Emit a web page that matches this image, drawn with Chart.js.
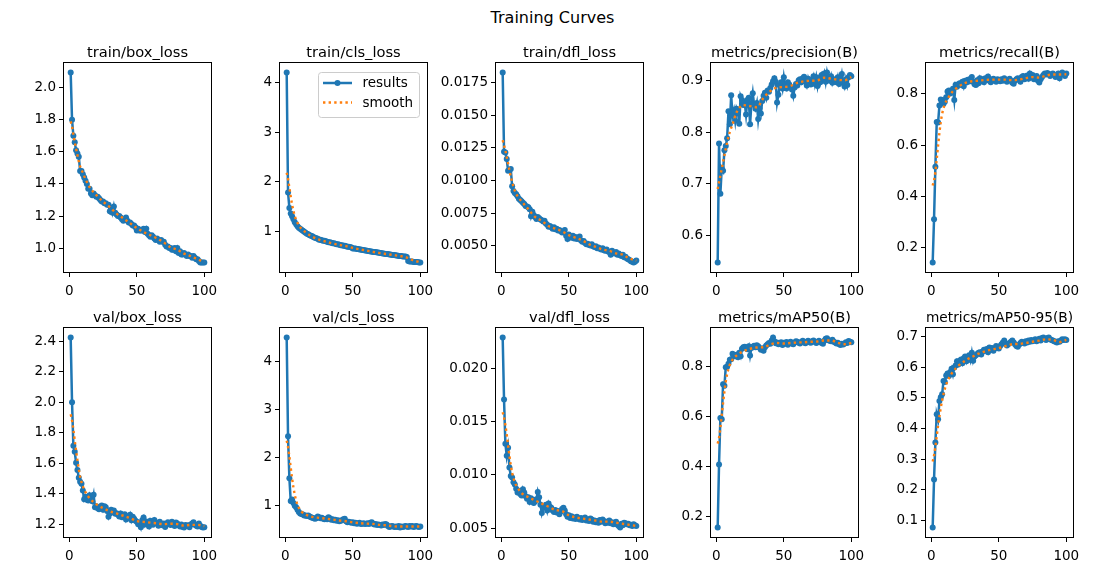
<!DOCTYPE html>
<html>
<head>
<meta charset="utf-8">
<script src="https://cdn.jsdelivr.net/npm/chart.js@4.4.1/dist/chart.umd.min.js"></script>
<style>
  body { margin: 0; background: #fff; width: 1105px; height: 584px; position: relative; overflow: hidden; font-family: "DejaVu Sans", sans-serif; }
  #suptitle { position: absolute; left: 0; top: 8px; width: 1105px; text-align: center; font-size: 16px; color: #000; }
  canvas { position: absolute; }
</style>
</head>
<body>
<div id="suptitle">Training Curves</div>
<script>
// Epochs and tick labels
const EPOCHS = Array.from({ length: 100 }, (_, i) => i + 1);
const SMOOTH_EPOCHS = [1, 2, 3, 4, 5, 6, 7, 8, 10, 12, 15, 20, 25, 30, 35, 40, 45, 50, 55, 60, 65, 70, 75, 80, 85, 90, 95, 100];
const X_TICKS = [0, 50, 100];

// train/box_loss
const trainBoxLoss = [2.095, 1.80, 1.70, 1.66, 1.61, 1.59, 1.57, 1.48, 1.48, 1.46,
  1.44, 1.42, 1.40, 1.37, 1.37, 1.34, 1.33, 1.34, 1.33, 1.32,
  1.32, 1.31, 1.30, 1.29, 1.29, 1.28, 1.28, 1.27, 1.27, 1.23,
  1.25, 1.22, 1.26, 1.22, 1.21, 1.20, 1.20, 1.19, 1.18, 1.17,
  1.18, 1.19, 1.17, 1.16, 1.16, 1.15, 1.14, 1.14, 1.13, 1.11,
  1.12, 1.11, 1.11, 1.11, 1.12, 1.10, 1.12, 1.09, 1.08, 1.07,
  1.08, 1.07, 1.06, 1.05, 1.06, 1.05, 1.04, 1.05, 1.04, 1.04,
  1.02, 1.01, 1.01, 1.00, 1.00, 0.99, 0.99, 1.00, 0.98, 1.00,
  0.97, 0.98, 0.96, 0.96, 0.97, 0.96, 0.95, 0.96, 0.95, 0.95,
  0.94, 0.95, 0.94, 0.93, 0.93, 0.92, 0.91, 0.91, 0.91, 0.91];
const trainBoxSmooth = [1.79, 1.76, 1.71, 1.66, 1.62, 1.58, 1.54, 1.51, 1.47, 1.43, 1.38, 1.33, 1.29, 1.255,
  1.215, 1.185, 1.155, 1.125, 1.10, 1.08, 1.06, 1.035, 1.005, 0.99, 0.965, 0.95, 0.93, 0.915];
const trainBoxTicks = ['1.0', '1.2', '1.4', '1.6', '1.8', '2.0'];

// train/cls_loss
const trainClsLoss = [4.20, 1.78, 1.47, 1.36, 1.30, 1.24, 1.18, 1.14, 1.10, 1.07,
  1.05, 1.03, 1.01, 0.99, 0.97, 0.95, 0.94, 0.92, 0.91, 0.90,
  0.88, 0.87, 0.86, 0.85, 0.83, 0.83, 0.82, 0.81, 0.81, 0.80,
  0.79, 0.78, 0.78, 0.77, 0.76, 0.76, 0.75, 0.74, 0.74, 0.73,
  0.72, 0.72, 0.71, 0.71, 0.70, 0.69, 0.69, 0.68, 0.67, 0.65,
  0.65, 0.65, 0.64, 0.64, 0.63, 0.63, 0.62, 0.62, 0.61, 0.61,
  0.60, 0.60, 0.59, 0.59, 0.58, 0.58, 0.58, 0.57, 0.57, 0.56,
  0.56, 0.55, 0.55, 0.54, 0.54, 0.54, 0.53, 0.53, 0.52, 0.52,
  0.52, 0.51, 0.51, 0.50, 0.50, 0.50, 0.49, 0.49, 0.49, 0.48,
  0.40, 0.39, 0.39, 0.39, 0.38, 0.38, 0.38, 0.38, 0.37, 0.37];
const trainClsSmooth = [2.18, 2.05, 1.88, 1.70, 1.54, 1.41, 1.31, 1.23, 1.12, 1.05, 0.98, 0.89, 0.83, 0.79,
  0.755, 0.725, 0.70, 0.665, 0.635, 0.61, 0.585, 0.56, 0.54, 0.52, 0.50, 0.47, 0.41, 0.38];
const trainClsTicks = ['1', '2', '3', '4'];

// train/dfl_loss
const trainDflLoss = [0.01830, 0.01222, 0.01215, 0.01165, 0.01075, 0.01080, 0.01088, 0.00955, 0.00920, 0.00905,
  0.00895, 0.00880, 0.00860, 0.00850, 0.00840, 0.00830, 0.00820, 0.00805, 0.00800, 0.00795,
  0.00780, 0.00725, 0.00760, 0.00735, 0.00720, 0.00705, 0.00720, 0.00710, 0.00700, 0.00695,
  0.00685, 0.00690, 0.00670, 0.00660, 0.00645, 0.00650, 0.00640, 0.00630, 0.00640, 0.00625,
  0.00630, 0.00615, 0.00620, 0.00610, 0.00600, 0.00605, 0.00620, 0.00575, 0.00550, 0.00585,
  0.00570, 0.00560, 0.00575, 0.00555, 0.00565, 0.00550, 0.00555, 0.00570, 0.00540, 0.00530,
  0.00535, 0.00520, 0.00510, 0.00515, 0.00505, 0.00500, 0.00510, 0.00495, 0.00490, 0.00495,
  0.00480, 0.00485, 0.00475, 0.00470, 0.00480, 0.00465, 0.00460, 0.00470, 0.00455, 0.00450,
  0.00430, 0.00460, 0.00445, 0.00440, 0.00450, 0.00430, 0.00440, 0.00425, 0.00420, 0.00430,
  0.00410, 0.00415, 0.00400, 0.00395, 0.00390, 0.00380, 0.00375, 0.00370, 0.00375, 0.00385];
const trainDflSmooth = [0.0131, 0.0127, 0.0123, 0.0118, 0.0113, 0.0108, 0.0103, 0.0099, 0.0092, 0.0088, 0.0084,
  0.0078, 0.0072, 0.0069, 0.0065, 0.0063, 0.0061, 0.0058, 0.0056, 0.0054, 0.0051, 0.0049, 0.0047, 0.0046,
  0.0044, 0.0043, 0.0040, 0.00385];
const trainDflTicks = ['0.0050', '0.0075', '0.0100', '0.0125', '0.0150', '0.0175'];

// metrics/precision(B)
const precision = [0.548, 0.778, 0.681, 0.730, 0.725, 0.765, 0.773, 0.788, 0.840, 0.815,
  0.871, 0.832, 0.842, 0.822, 0.845, 0.838, 0.816, 0.869, 0.862, 0.852,
  0.857, 0.834, 0.862, 0.866, 0.815, 0.856, 0.875, 0.852, 0.845, 0.856,
  0.825, 0.846, 0.836, 0.860, 0.870, 0.876, 0.866, 0.880, 0.878, 0.885,
  0.892, 0.898, 0.904, 0.897, 0.857, 0.872, 0.890, 0.896, 0.884, 0.906,
  0.889, 0.884, 0.896, 0.892, 0.887, 0.882, 0.870, 0.886, 0.893, 0.890,
  0.900, 0.902, 0.896, 0.904, 0.907, 0.898, 0.890, 0.903, 0.894, 0.892,
  0.901, 0.908, 0.893, 0.906, 0.889, 0.903, 0.896, 0.910, 0.904, 0.913,
  0.897, 0.915, 0.903, 0.899, 0.908, 0.895, 0.902, 0.901, 0.896, 0.906,
  0.893, 0.899, 0.912, 0.896, 0.888, 0.902, 0.891, 0.906, 0.910, 0.908];
const precisionSmooth = [0.690, 0.703, 0.716, 0.729, 0.742, 0.755, 0.768, 0.780, 0.800, 0.815, 0.838, 0.852,
  0.850, 0.848, 0.866, 0.879, 0.886, 0.887, 0.889, 0.895, 0.898, 0.899, 0.900, 0.905, 0.903, 0.901, 0.900, 0.906];
const precisionTicks = ['0.6', '0.7', '0.8', '0.9'];

// metrics/recall(B)
const recall = [0.141, 0.310, 0.515, 0.690, 0.688, 0.755, 0.778, 0.776, 0.762, 0.770,
  0.787, 0.810, 0.814, 0.802, 0.812, 0.820, 0.776, 0.836, 0.828, 0.838,
  0.842, 0.835, 0.848, 0.830, 0.852, 0.845, 0.856, 0.849, 0.860, 0.866,
  0.848, 0.838, 0.835, 0.854, 0.842, 0.862, 0.850, 0.858, 0.846, 0.862,
  0.857, 0.868, 0.852, 0.846, 0.857, 0.860, 0.852, 0.848, 0.858, 0.855,
  0.850, 0.858, 0.852, 0.862, 0.856, 0.848, 0.855, 0.860, 0.852, 0.844,
  0.840, 0.852, 0.858, 0.862, 0.856, 0.848, 0.866, 0.870, 0.858, 0.862,
  0.872, 0.860, 0.880, 0.866, 0.874, 0.858, 0.864, 0.870, 0.852, 0.845,
  0.858, 0.866, 0.874, 0.880, 0.876, 0.882, 0.878, 0.870, 0.876, 0.880,
  0.874, 0.866, 0.872, 0.880, 0.862, 0.878, 0.884, 0.876, 0.870, 0.880];
const recallSmooth = [0.442, 0.462, 0.495, 0.545, 0.598, 0.648, 0.690, 0.722, 0.760, 0.780, 0.805, 0.828, 0.843,
  0.850, 0.852, 0.855, 0.856, 0.856, 0.856, 0.854, 0.856, 0.862, 0.866, 0.864, 0.872, 0.876, 0.876, 0.877];
const recallTicks = ['0.2', '0.4', '0.6', '0.8'];

// val/box_loss
const valBoxLoss = [2.424, 2.000, 1.714, 1.675, 1.603, 1.555, 1.505, 1.478, 1.465, 1.420,
  1.364, 1.380, 1.360, 1.355, 1.390, 1.370, 1.350, 1.392, 1.310, 1.318,
  1.305, 1.298, 1.316, 1.322, 1.295, 1.318, 1.310, 1.286, 1.248, 1.270,
  1.295, 1.278, 1.290, 1.268, 1.272, 1.262, 1.250, 1.270, 1.245, 1.260,
  1.265, 1.230, 1.252, 1.240, 1.262, 1.225, 1.248, 1.235, 1.222, 1.215,
  1.200, 1.208, 1.180, 1.225, 1.244, 1.198, 1.218, 1.205, 1.185, 1.222,
  1.205, 1.196, 1.228, 1.210, 1.205, 1.190, 1.215, 1.198, 1.192, 1.205,
  1.182, 1.200, 1.212, 1.206, 1.195, 1.215, 1.202, 1.188, 1.210, 1.205,
  1.192, 1.185, 1.198, 1.182, 1.178, 1.195, 1.188, 1.192, 1.180, 1.198,
  1.205, 1.212, 1.196, 1.190, 1.185, 1.205, 1.190, 1.182, 1.178, 1.180];
const valBoxSmooth = [1.92, 1.88, 1.82, 1.75, 1.68, 1.62, 1.56, 1.51, 1.45, 1.41, 1.37, 1.33, 1.305, 1.285,
  1.27, 1.255, 1.24, 1.22, 1.215, 1.21, 1.205, 1.20, 1.203, 1.20, 1.19, 1.195, 1.195, 1.187];
const valBoxTicks = ['1.2', '1.4', '1.6', '1.8', '2.0', '2.2', '2.4'];

// val/cls_loss
const valClsLoss = [4.49, 2.44, 1.57, 1.10, 1.13, 1.06, 1.00, 0.97, 0.92, 0.87,
  0.84, 0.83, 0.82, 0.80, 0.80, 0.79, 0.80, 0.78, 0.76, 0.75,
  0.74, 0.73, 0.74, 0.78, 0.76, 0.74, 0.75, 0.73, 0.72, 0.73,
  0.72, 0.76, 0.74, 0.71, 0.72, 0.70, 0.71, 0.69, 0.70, 0.68,
  0.69, 0.70, 0.72, 0.73, 0.68, 0.66, 0.67, 0.66, 0.65, 0.66,
  0.64, 0.65, 0.63, 0.64, 0.65, 0.62, 0.63, 0.64, 0.62, 0.63,
  0.64, 0.62, 0.65, 0.66, 0.63, 0.61, 0.62, 0.60, 0.61, 0.60,
  0.59, 0.61, 0.60, 0.62, 0.61, 0.58, 0.56, 0.57, 0.58, 0.57,
  0.56, 0.57, 0.56, 0.58, 0.55, 0.57, 0.56, 0.57, 0.58, 0.57,
  0.56, 0.58, 0.57, 0.58, 0.56, 0.57, 0.58, 0.57, 0.56, 0.57];
const valClsSmooth = [2.35, 2.22, 2.02, 1.79, 1.57, 1.38, 1.23, 1.11, 0.96, 0.88, 0.82, 0.77, 0.75, 0.735,
  0.715, 0.695, 0.68, 0.655, 0.64, 0.63, 0.625, 0.605, 0.595, 0.575, 0.57, 0.57, 0.57, 0.57];
const valClsTicks = ['1', '2', '3', '4'];

// val/dfl_loss
const valDflLoss = [0.02293, 0.01710, 0.01294, 0.01180, 0.01256, 0.01070, 0.00990, 0.00975, 0.00930, 0.00910,
  0.00870, 0.00835, 0.00850, 0.00820, 0.00805, 0.00865, 0.00835, 0.00800, 0.00775, 0.00790,
  0.00745, 0.00780, 0.00765, 0.00735, 0.00750, 0.00770, 0.00840, 0.00790, 0.00720, 0.00642,
  0.00690, 0.00710, 0.00720, 0.00665, 0.00730, 0.00700, 0.00690, 0.00665, 0.00650, 0.00670,
  0.00645, 0.00660, 0.00630, 0.00655, 0.00680, 0.00690, 0.00665, 0.00630, 0.00605, 0.00620,
  0.00595, 0.00610, 0.00590, 0.00600, 0.00585, 0.00605, 0.00590, 0.00580, 0.00595, 0.00575,
  0.00585, 0.00600, 0.00570, 0.00580, 0.00565, 0.00590, 0.00580, 0.00560, 0.00570, 0.00555,
  0.00565, 0.00550, 0.00575, 0.00560, 0.00580, 0.00565, 0.00545, 0.00560, 0.00550, 0.00570,
  0.00545, 0.00555, 0.00535, 0.00550, 0.00560, 0.00530, 0.00520, 0.00505, 0.00540, 0.00525,
  0.00550, 0.00545, 0.00535, 0.00540, 0.00525, 0.00530, 0.00520, 0.00535, 0.00525, 0.00520];
const valDflSmooth = [0.0159, 0.0154, 0.0147, 0.0138, 0.0128, 0.0118, 0.0109, 0.0102, 0.0093, 0.0088, 0.0083,
  0.0079, 0.0076, 0.0073, 0.0070, 0.0067, 0.0066, 0.0062, 0.0060, 0.0059, 0.0058, 0.0057, 0.0056, 0.0056,
  0.0055, 0.0054, 0.0053, 0.0052];
const valDflTicks = ['0.005', '0.010', '0.015', '0.020'];

// metrics/mAP50(B)
const map50 = [0.156, 0.408, 0.595, 0.590, 0.730, 0.724, 0.798, 0.800, 0.812, 0.828,
  0.830, 0.852, 0.846, 0.842, 0.848, 0.838, 0.856, 0.842, 0.872, 0.878,
  0.880, 0.877, 0.870, 0.882, 0.845, 0.875, 0.880, 0.884, 0.878, 0.886,
  0.882, 0.876, 0.868, 0.872, 0.864, 0.878, 0.885, 0.890, 0.895, 0.892,
  0.905, 0.917, 0.902, 0.894, 0.897, 0.890, 0.893, 0.898, 0.887, 0.896,
  0.892, 0.899, 0.888, 0.895, 0.900, 0.893, 0.890, 0.897, 0.902, 0.900,
  0.896, 0.893, 0.899, 0.904, 0.897, 0.894, 0.900, 0.904, 0.898, 0.896,
  0.902, 0.905, 0.899, 0.895, 0.898, 0.904, 0.900, 0.895, 0.892, 0.904,
  0.912, 0.914, 0.906, 0.904, 0.902, 0.908, 0.900, 0.897, 0.893, 0.896,
  0.890, 0.887, 0.892, 0.889, 0.893, 0.898, 0.895, 0.903, 0.900, 0.898];
const map50Smooth = [0.492, 0.515, 0.555, 0.605, 0.655, 0.700, 0.740, 0.770, 0.808, 0.828, 0.845, 0.862, 0.872,
  0.877, 0.878, 0.889, 0.895, 0.893, 0.895, 0.897, 0.898, 0.900, 0.901, 0.905, 0.905, 0.896, 0.890, 0.895];
const map50Ticks = ['0.2', '0.4', '0.6', '0.8'];

// metrics/mAP50-95(B)
const map5095 = [0.076, 0.233, 0.354, 0.447, 0.430, 0.490, 0.502, 0.512, 0.556, 0.552,
  0.574, 0.580, 0.572, 0.585, 0.596, 0.578, 0.600, 0.606, 0.620, 0.610,
  0.622, 0.626, 0.614, 0.630, 0.636, 0.620, 0.632, 0.640, 0.624, 0.648,
  0.622, 0.636, 0.640, 0.644, 0.648, 0.650, 0.642, 0.652, 0.658, 0.655,
  0.660, 0.650, 0.665, 0.660, 0.664, 0.655, 0.662, 0.670, 0.665, 0.662,
  0.670, 0.676, 0.682, 0.688, 0.678, 0.672, 0.676, 0.680, 0.684, 0.688,
  0.682, 0.676, 0.670, 0.668, 0.674, 0.680, 0.684, 0.682, 0.678, 0.686,
  0.682, 0.688, 0.684, 0.690, 0.686, 0.688, 0.692, 0.686, 0.690, 0.694,
  0.688, 0.696, 0.698, 0.694, 0.690, 0.696, 0.698, 0.692, 0.690, 0.688,
  0.686, 0.684, 0.682, 0.686, 0.684, 0.688, 0.692, 0.690, 0.692, 0.690];
const map5095Smooth = [0.292, 0.312, 0.340, 0.375, 0.410, 0.440, 0.468, 0.492, 0.530, 0.555, 0.580, 0.605,
  0.622, 0.634, 0.645, 0.653, 0.659, 0.663, 0.670, 0.676, 0.677, 0.680, 0.684, 0.688, 0.692, 0.690, 0.683, 0.690];
const map5095Ticks = ['0.1', '0.2', '0.3', '0.4', '0.5', '0.6', '0.7'];

// Layout (axes boxes in page pixels, matplotlib-like grid 2 x 5)
const AX_LEFT = [64, 280, 496, 711, 926];
const AX_TOP = [63, 328];
const AX_W = 147, AX_H = 209;
const PAD_L = 70, PAD_R = 16, PAD_T = 30, PAD_B = 30;
const X_MIN = -3.95, X_MAX = 104.95;
const BLUE = '#1f77b4', ORANGE = '#ff7f0e';
const FONT = 'DejaVu Sans';

Chart.defaults.font.family = FONT;
Chart.defaults.color = '#000';

const panels = [
  { title: 'train/box_loss', values: trainBoxLoss, smooth: trainBoxSmooth, ticks: trainBoxTicks, row: 0, col: 0 },
  { title: 'train/cls_loss', values: trainClsLoss, smooth: trainClsSmooth, ticks: trainClsTicks, row: 0, col: 1, legend: true },
  { title: 'train/dfl_loss', values: trainDflLoss, smooth: trainDflSmooth, ticks: trainDflTicks, row: 0, col: 2 },
  { title: 'metrics/precision(B)', values: precision, smooth: precisionSmooth, ticks: precisionTicks, row: 0, col: 3 },
  { title: 'metrics/recall(B)', values: recall, smooth: recallSmooth, ticks: recallTicks, row: 0, col: 4 },
  { title: 'val/box_loss', values: valBoxLoss, smooth: valBoxSmooth, ticks: valBoxTicks, row: 1, col: 0 },
  { title: 'val/cls_loss', values: valClsLoss, smooth: valClsSmooth, ticks: valClsTicks, row: 1, col: 1 },
  { title: 'val/dfl_loss', values: valDflLoss, smooth: valDflSmooth, ticks: valDflTicks, row: 1, col: 2 },
  { title: 'metrics/mAP50(B)', values: map50, smooth: map50Smooth, ticks: map50Ticks, row: 1, col: 3 },
  { title: 'metrics/mAP50-95(B)', values: map5095, smooth: map5095Smooth, ticks: map5095Ticks, row: 1, col: 4 }
];

// Box around the plot area (matplotlib spines)
const frame = {
  id: 'frame',
  afterDatasetsDraw(chart) {
    const a = chart.chartArea, c = chart.ctx;
    c.save();
    c.strokeStyle = '#000';
    c.lineWidth = 1;
    c.strokeRect(Math.round(a.left) - 0.5, Math.round(a.top) - 0.5, Math.round(a.right - a.left) + 1, Math.round(a.bottom - a.top) + 1);
    c.restore();
  }
};

// Legend drawn inside the axes, upper right
const legendBox = {
  id: 'legendBox',
  afterDraw(chart) {
    const a = chart.chartArea, c = chart.ctx;
    const x = a.right - 109, y = a.top + 9, w = 101, h = 45;
    c.save();
    c.fillStyle = 'rgba(255,255,255,0.8)';
    c.strokeStyle = '#cccccc';
    c.lineWidth = 1;
    c.beginPath();
    c.roundRect(x + 0.5, y + 0.5, w, h, 3);
    c.fill();
    c.stroke();
    // results sample
    c.strokeStyle = BLUE;
    c.lineWidth = 2.5;
    c.beginPath();
    c.moveTo(x + 5, y + 11);
    c.lineTo(x + 34, y + 11);
    c.stroke();
    c.fillStyle = BLUE;
    c.beginPath();
    c.arc(x + 19.5, y + 11, 3, 0, Math.PI * 2);
    c.fill();
    // smooth sample
    c.strokeStyle = ORANGE;
    c.setLineDash([2.4, 3.2]);
    c.beginPath();
    c.moveTo(x + 5, y + 30.5);
    c.lineTo(x + 34, y + 30.5);
    c.stroke();
    c.setLineDash([]);
    c.fillStyle = '#000';
    c.font = '13.5px "' + FONT + '"';
    c.textBaseline = 'middle';
    c.fillText('results', x + 44.5, y + 11);
    c.fillText('smooth', x + 44.5, y + 31);
    c.restore();
  }
};

function makePanel(p) {
  const canvas = document.createElement('canvas');
  canvas.width = PAD_L + AX_W + PAD_R;
  canvas.height = PAD_T + AX_H + PAD_B;
  canvas.style.left = (AX_LEFT[p.col] - PAD_L) + 'px';
  canvas.style.top = (AX_TOP[p.row] - PAD_T) + 'px';
  document.body.appendChild(canvas);

  // matplotlib autoscale: 5% margin around the data
  const all = p.values.concat(p.smooth);
  const lo = Math.min(...all), hi = Math.max(...all);
  const margin = (hi - lo) * 0.05;

  const tickStyle = { color: '#000', font: { size: 13.5 }, maxRotation: 0, autoSkip: false };
  const gridStyle = { display: true, drawOnChartArea: false, drawTicks: true, tickLength: 5, color: '#000', lineWidth: 1 };

  new Chart(canvas, {
    type: 'line',
    data: {
      datasets: [
        {
          label: 'smooth',
          data: SMOOTH_EPOCHS.map((e, i) => ({ x: e, y: p.smooth[i] })),
          borderColor: ORANGE,
          borderWidth: 2.4,
          borderDash: [2.4, 3.2],
          pointRadius: 0,
          cubicInterpolationMode: 'monotone',
          order: 0
        },
        {
          label: 'results',
          data: EPOCHS.map((e, i) => ({ x: e, y: p.values[i] })),
          borderColor: BLUE,
          backgroundColor: BLUE,
          borderWidth: 2.5,
          pointRadius: 3,
          pointBorderWidth: 0,
          pointBackgroundColor: BLUE,
          tension: 0,
          order: 1
        }
      ]
    },
    options: {
      responsive: false,
      animation: false,
      devicePixelRatio: 1,
      layout: { padding: { left: 0, right: PAD_R, top: 0, bottom: 0 } },
      plugins: {
        legend: { display: false },
        tooltip: { enabled: false },
        title: {
          display: true,
          text: p.title,
          fullSize: false,
          color: '#000',
          font: { family: FONT, size: 14.67, weight: 'normal' },
          padding: { top: 11.4, bottom: 1 }
        }
      },
      scales: {
        x: {
          type: 'linear',
          min: X_MIN,
          max: X_MAX,
          afterFit: s => { s.height = PAD_B; },
          afterBuildTicks: s => { s.ticks = X_TICKS.map(v => ({ value: v })); },
          ticks: Object.assign({ padding: 6 }, tickStyle),
          grid: gridStyle,
          border: { display: false }
        },
        y: {
          type: 'linear',
          min: lo - margin,
          max: hi + margin,
          afterFit: s => { s.width = PAD_L; },
          afterBuildTicks: s => { s.ticks = p.ticks.map(t => ({ value: Number(t) })); },
          ticks: Object.assign({ padding: 3, callback: (v, i) => p.ticks[i] }, tickStyle),
          grid: gridStyle,
          border: { display: false }
        }
      }
    },
    plugins: p.legend ? [frame, legendBox] : [frame]
  });
}

panels.forEach(makePanel);
</script>
</body>
</html>
